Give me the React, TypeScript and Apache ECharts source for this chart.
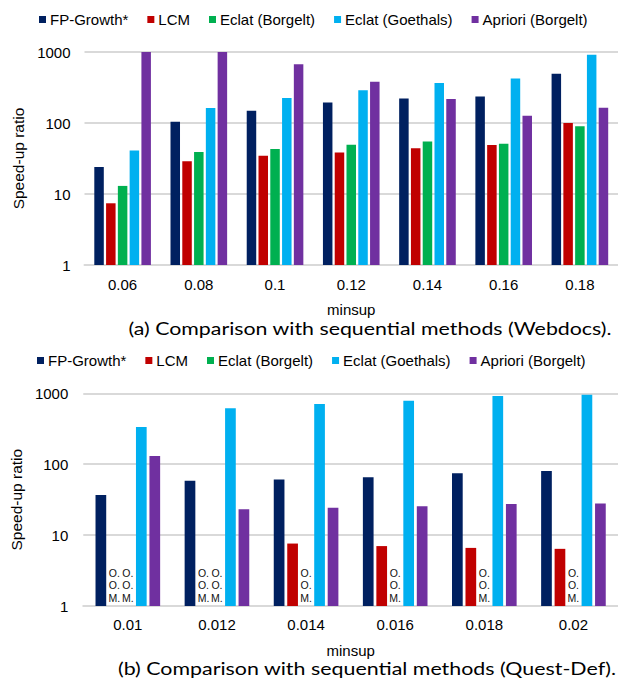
import React, { useEffect, useRef } from "react";
import * as echarts from "echarts";

const seriesNames = ["FP-Growth*", "LCM", "Eclat (Borgelt)", "Eclat (Goethals)", "Apriori (Borgelt)"];
const seriesColors = ["#002060", "#C00000", "#00B050", "#00B0F0", "#7030A0"];

const OOM = "OOM";

// (a) Webdocs
const webCategories = ["0.06", "0.08", "0.1", "0.12", "0.14", "0.16", "0.18"];
const webFP = [24, 104, 149, 195, 222, 237, 494];
const webLCM = [7.4, 29, 34.6, 38.5, 44, 49, 100];
const webEclatB = [13, 39, 43, 49.5, 55, 51, 90];
const webEclatG = [41, 163, 225, 290, 365, 425, 916];
const webApriori = [1000, 1000, 670, 381, 218, 126, 164];

// (b) Quest-Def
const questCategories = ["0.01", "0.012", "0.014", "0.016", "0.018", "0.02"];
const questFP = [36.8, 58.6, 60.8, 65.5, 74.5, 80];
const questLCM: (number | string)[] = [OOM, OOM, 7.6, 7.0, 6.6, 6.4];
const questEclatB: (number | string)[] = [OOM, OOM, OOM, OOM, OOM, OOM];
const questEclatG = [335, 614, 707, 787, 916, 957];
const questApriori = [130, 23.2, 24.4, 25.5, 27.5, 27.9];

const yTicks = ["1", "10", "100", "1000"];

const captionA = "(a) Comparison with sequential methods (Webdocs).";
const captionB = "(b) Comparison with sequential methods (Quest-Def).";

const FONT = "Liberation Sans";
const CAP_FONT = "Lato";

function measure(text: string, size: number, family: string) {
  const c = document.createElement("canvas").getContext("2d");
  if (!c) return text.length * size * 0.5;
  c.font = `${size}px "${family}"`;
  return c.measureText(text).width;
}

function toData(arr: (number | string)[]) {
  return arr.map((v) =>
    v === OOM
      ? {
          value: 1,
          itemStyle: { color: "rgba(0,0,0,0)" },
          label: {
            show: true,
            position: "top",
            distance: 2,
            formatter: "O.\nO.\nM.",
            fontSize: 10.5,
            lineHeight: 12.5,
            color: "#111",
            fontFamily: FONT,
          },
        }
      : v
  );
}

export default function App() {
  const ref = useRef<HTMLDivElement>(null);
  useEffect(() => {
    if (!ref.current) return;
    const chart = echarts.init(ref.current, undefined, { renderer: "svg" });

    const webSets = [webFP, webLCM, webEclatB, webEclatG, webApriori];
    const questSets = [questFP, questLCM, questEclatB, questEclatG, questApriori];

    const series: any[] = [];
    webSets.forEach((d, i) => {
      series.push({
        type: "bar",
        name: seriesNames[i],
        xAxisIndex: 0,
        yAxisIndex: 0,
        data: d,
        barWidth: 9.5,
        barGap: "24%",
        itemStyle: { color: seriesColors[i] },
      });
    });
    questSets.forEach((d, i) => {
      series.push({
        type: "bar",
        name: seriesNames[i],
        xAxisIndex: 1,
        yAxisIndex: 1,
        data: toData(d as (number | string)[]),
        barWidth: 10.7,
        barGap: "26%",
        itemStyle: { color: seriesColors[i] },
      });
    });

    const axisX = (gi: number, cats: string[], margin: number) => ({
      type: "category",
      gridIndex: gi,
      data: cats,
      axisLine: { lineStyle: { color: "#D9D9D9", width: 2 } },
      axisTick: { show: false },
      axisLabel: { fontSize: 15, margin, color: "#000", fontFamily: FONT },
      name: "minsup",
      nameLocation: "middle",
      nameGap: 37,
      nameTextStyle: { fontSize: 15, color: "#000", fontFamily: FONT },
    });
    const axisY = (gi: number, margin: number, nameGap: number) => ({
      type: "log",
      logBase: 10,
      gridIndex: gi,
      min: Number(yTicks[0]),
      max: Number(yTicks[yTicks.length - 1]),
      axisLine: { show: false },
      axisTick: { show: false },
      splitLine: { lineStyle: { color: "#D9D9D9", width: 2 } },
      axisLabel: {
        fontSize: 15,
        margin,
        color: "#000",
        fontFamily: FONT,
        formatter: (v: number) => String(Math.round(v)),
      },
      name: "Speed-up ratio",
      nameLocation: "middle",
      nameRotate: 90,
      nameGap,
      nameTextStyle: { fontSize: 15.5, color: "#000", fontFamily: FONT },
    });

    const capSize = 17;
    const capTarget = 484;
    const wA = measure(captionA, capSize, CAP_FONT);
    const wB = measure(captionB, capSize, CAP_FONT);

    const legendCommon = {
      icon: "rect",
      itemWidth: 7,
      itemHeight: 7,
      itemGap: 19,
      selectedMode: false,
      textStyle: { fontSize: 15, color: "#000", fontFamily: FONT, padding: [0, 0, 0, -1] },
      data: seriesNames,
    };

    chart.setOption({
      animation: false,
      textStyle: { fontFamily: FONT },
      color: seriesColors,
      legend: [
        { ...legendCommon, top: 7, left: 34 },
        { ...legendCommon, top: 348, left: 32 },
      ],
      grid: [
        { left: 84.5, top: 52, width: 539, height: 213 },
        { left: 78, top: 393.3, width: 540, height: 212.7 },
      ],
      xAxis: [axisX(0, webCategories, 12), axisX(1, questCategories, 11)],
      yAxis: [axisY(0, 14, 56.5), axisY(1, 15, 55.5)],
      series,
      graphic: [
        {
          type: "text",
          x: 370,
          y: 328,
          scaleX: capTarget / wA,
          style: {
            text: captionA,
            fontSize: capSize,
            fontFamily: CAP_FONT,
            fill: "#000",
            textAlign: "center",
            textVerticalAlign: "middle",
          },
        },
        {
          type: "text",
          x: 367,
          y: 668,
          scaleX: (capTarget + 15) / wB,
          style: {
            text: captionB,
            fontSize: capSize,
            fontFamily: CAP_FONT,
            fill: "#000",
            textAlign: "center",
            textVerticalAlign: "middle",
          },
        },
      ],
    });
    return () => chart.dispose();
  }, []);
  return (
    <div
      ref={ref}
      style={{ position: "absolute", left: 0, top: 0, width: 618, height: 681, background: "#fff" }}
    />
  );
}
